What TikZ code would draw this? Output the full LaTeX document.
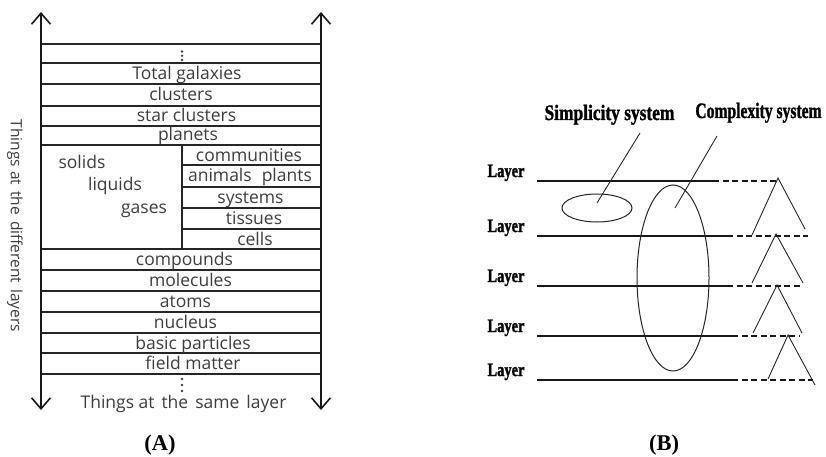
\documentclass[tikz,border=0pt]{standalone}
\usepackage{fontspec}
\usepackage{graphicx}
\setmainfont{Liberation Serif}
\newfontfamily\sansA{Open Sans}
\newfontfamily\heavyB[BoldFeatures={FakeBold=1.6}]{Liberation Serif}
\usetikzlibrary{arrows.meta,shapes.geometric}
\begin{document}
\begin{tikzpicture}[x=1pt,y=-1pt,
  gridline/.style={line width=1.6pt, draw=black!85},
  axisline/.style={line width=1.8pt, draw=black!90,
    {Straight Barb[length=11pt,width=19pt,line width=1.6pt]}-{Straight Barb[length=11pt,width=19pt,line width=1.6pt]}},
  celltext/.style={font=\sansA\fontsize{17.5}{20}\selectfont, text=black!76, inner sep=0pt, anchor=base},
  sidetext/.style={font=\sansA\fontsize{15.5}{18}\selectfont, text=black!76, inner sep=0pt},
  dotmark/.style={fill=black!75, draw=none},
  layerline/.style={line width=1.6pt, draw=black!90},
  dashline/.style={line width=1.6pt, draw=black!90, dash pattern=on 6pt off 3.5pt},
  thinline/.style={line width=0.9pt, draw=black!85},
  layerlab/.style={inner sep=0pt, anchor=base},
  syslab/.style={inner sep=0pt, anchor=base},
  panellab/.style={inner sep=0pt, font=\bfseries\fontsize{22.5}{25}\selectfont},
  ell/.style={ellipse, draw=black!85, line width=1pt, inner sep=0pt}
]
\useasboundingbox (0,0) rectangle (826,457);

% ---------------- Panel A ----------------
\foreach \y in {44,63,84,106,126,145,249,270,291,312,333,353,374}
  \draw[gridline] (41,\y) -- (321,\y);
\foreach \y in {165,187,208,229}
  \draw[gridline] (182,\y) -- (321,\y);
\draw[gridline] (182,145) -- (182,249);

\coordinate (ltop) at (41,12);
\coordinate (lbot) at (41,410);
\coordinate (rtop) at (321,12);
\coordinate (rbot) at (321,410);
\draw[axisline] (lbot) -- (ltop);
\draw[axisline] (rbot) -- (rtop);

% dots
\foreach \y in {51.5,55.8,60} \fill[dotmark] (182,\y) circle (1.3pt);
\foreach \y in {379,385,391} \fill[dotmark] (182,\y) circle (1.3pt);

\node[celltext] (tg) at (187,79.5) {Total galaxies};
\node[celltext] (cl) at (181,101) {clusters};
\node[celltext] (sc) at (186.5,122) {star clusters};
\node[celltext] (pl) at (188,141) {planets};
\node[celltext] (co) at (249,161) {communities};
\node[celltext] (ap) at (250,182) {animals\hspace{10pt}plants};
\node[celltext] (sy) at (250.5,203.5) {systems};
\node[celltext] (ti) at (254,224.5) {tissues};
\node[celltext] (ce) at (255,245) {cells};
\node[celltext] (so) at (82,168) {solids};
\node[celltext] (li) at (115,190.5) {liquids};
\node[celltext] (ga) at (144,213) {gases};
\node[celltext] (cp) at (184.5,265.5) {compounds};
\node[celltext] (mo) at (190.5,286.5) {molecules};
\node[celltext] (at) at (185.5,307.5) {atoms};
\node[celltext] (nu) at (185.5,328.5) {nucleus};
\node[celltext] (bp) at (193,349) {basic particles};
\node[celltext] (fm) at (193,369.5) {field matter};
\node[celltext] (same) at (183.5,408) {Things at\hspace{7pt}the\hspace{7pt}same\hspace{7pt}layer};
\node[sidetext, rotate=-90] (diff) at (15,226) {Things at\hspace{6pt}the\hspace{6pt}different\hspace{6pt}layers};

\node[panellab] (pa) at (160,445) {(A)};

% ---------------- Panel B ----------------
\foreach \i/\y/\s/\d in {1/181/713/777, 2/236/727/808, 3/286/727/803, 4/336/732/800, 5/380/732/813} {
  \node[layerlab] (L\i) at (506,\y-4) {\scalebox{0.76}[1]{\heavyB\fontsize{19}{18}\selectfont\bfseries Layer}};
  \coordinate (a\i) at (537,\y);
  \coordinate (b\i) at (\s,\y);
  \coordinate (c\i) at (\d,\y);
  \draw[layerline] (a\i) -- (b\i);
  \draw[dashline] (b\i) -- (c\i);
}

% triangles
\coordinate (t1l) at (752,235); \coordinate (t1a) at (778,178); \coordinate (t1r) at (805,229);
\coordinate (t2l) at (752,283); \coordinate (t2a) at (776,234); \coordinate (t2r) at (803,283);
\coordinate (t3l) at (753,333); \coordinate (t3a) at (777,285); \coordinate (t3r) at (802,333);
\coordinate (t4l) at (768,379); \coordinate (t4a) at (788,335); \coordinate (t4r) at (815,385);
\foreach \i in {1,2,3,4}
  \draw[thinline] (t\i l) -- (t\i a) -- (t\i r);

% ellipses
\node[ell, minimum width=70pt, minimum height=28pt] (simp) at (597,208) {};
\node[ell, minimum width=72pt, minimum height=186pt] (comp) at (673,278) {};
\coordinate (simpin) at (597,203);
\coordinate (compin) at (675,208);

% labels
\node[syslab] (slab) at (609.5,120) {\scalebox{0.79}[1]{\heavyB\fontsize{22}{21}\selectfont\bfseries Simplicity system}};
\node[syslab] (clab) at (758.5,118) {\scalebox{0.71}[1]{\heavyB\fontsize{22}{21}\selectfont\bfseries Complexity system}};
\coordinate (slabfoot) at (640,133);
\coordinate (clabfoot) at (717,136);
\draw[thinline] (slabfoot) -- (simpin);
\draw[thinline] (clabfoot) -- (compin);

\node[panellab] (pb) at (664,445) {(B)};
\end{tikzpicture}
\end{document}
